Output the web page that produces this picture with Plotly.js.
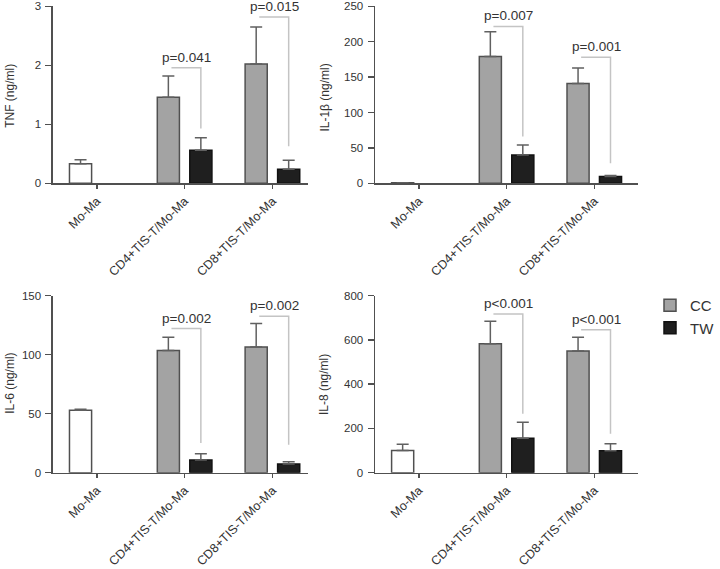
<!DOCTYPE html>
<html>
<head>
<meta charset="utf-8">
<script src="https://cdn.plot.ly/plotly-3.0.1.min.js"></script>
<style>html,body{margin:0;padding:0;background:#fff;}#chart{width:720px;height:569px;}</style>
</head>
<body>
<div id="chart"></div>
<script>
// ---- data ----
const categories = ['Mo-Ma', 'CD4+TIS-T/Mo-Ma', 'CD8+TIS-T/Mo-Ma'];
const seriesNames = ['CC', 'TW'];

const tnfCC = [0.33, 1.46, 2.02];
const tnfCCErr = [0.07, 0.36, 0.63];
const tnfTW = [null, 0.56, 0.24];
const tnfTWErr = [null, 0.21, 0.15];

const il1bCC = [0.8, 179, 141];
const il1bCCErr = [0, 35, 22];
const il1bTW = [null, 40, 9.5];
const il1bTWErr = [null, 14, 1.5];

const il6CC = [52.8, 103.4, 106.5];
const il6CCErr = [0.9, 11.3, 19.8];
const il6TW = [null, 10.7, 7.3];
const il6TWErr = [null, 5.4, 2.0];

const il8CC = [100, 582, 549];
const il8CCErr = [28, 102, 63];
const il8TW = [null, 156, 99];
const il8TWErr = [null, 72, 32];

const tnfP = ['p=0.041', 'p=0.015'];
const il1bP = ['p=0.007', 'p=0.001'];
const il6P = ['p=0.002', 'p=0.002'];
const il8P = ['p<0.001', 'p<0.001'];

// bracket levels (value units) for CD4 and CD8 groups
const tnfBracketTop = [1.96, 2.82], tnfBracketBot = [0.93, 0.63];
const il1bBracketTop = [221.5, 178], il1bBracketBot = [66, 28.3];
const il6BracketTop = [122, 132.5], il6BracketBot = [25.2, 23.7];
const il8BracketTop = [717, 645], il8BracketBot = [266, 176];

// ---- styling ----
const FONT = 'Liberation Sans, Arial, Helvetica, sans-serif';
const TXT = '#333333';
const AX = '#505050';
const BARW = 0.252, OFFC = -0.311, OFFT = 0.059;
const xi = categories.map((_, i) => i);

const panels = [
  {cc: tnfCC, ccErr: tnfCCErr, tw: tnfTW, twErr: tnfTWErr, p: tnfP, bt: tnfBracketTop, bb: tnfBracketBot, title: 'TNF (ng/ml)', range: [0, 3], dtick: 1, xr: [-0.5, 2.41]},
  {cc: il1bCC, ccErr: il1bCCErr, tw: il1bTW, twErr: il1bTWErr, p: il1bP, bt: il1bBracketTop, bb: il1bBracketBot, title: 'IL-1β (ng/ml)', range: [0, 250], dtick: 50, xr: [-0.5, 2.5]},
  {cc: il6CC, ccErr: il6CCErr, tw: il6TW, twErr: il6TWErr, p: il6P, bt: il6BracketTop, bb: il6BracketBot, title: 'IL-6 (ng/ml)', range: [0, 150], dtick: 50, xr: [-0.5, 2.41]},
  {cc: il8CC, ccErr: il8CCErr, tw: il8TW, twErr: il8TWErr, p: il8P, bt: il8BracketTop, bb: il8BracketBot, title: 'IL-8 (ng/ml)', range: [0, 800], dtick: 200, xr: [-0.5, 2.5]}
];

// pixel layout of the four plot areas
const W = 720, H = 569;
const pxX = [[54, 315], [383, 651.7], [54, 315], [383, 651.7]];
const pxY = [[6.3, 183.3], [6.3, 183.3], [295.5, 472.7], [295.5, 472.7]];
const titlePos = [[10, 96], [331.5, 98], [10, 383], [331, 385]];

const data = [];
const layout = {
  width: W, height: H,
  margin: {l: 0, r: 0, t: 0, b: 0},
  paper_bgcolor: '#fff', plot_bgcolor: 'rgba(0,0,0,0)',
  barmode: 'overlay',
  font: {family: FONT, color: TXT, size: 12},
  showlegend: true,
  legend: {x: 664 / W, y: 1 - 289 / H, xanchor: 'left', yanchor: 'top',
           font: {family: FONT, size: 15, color: TXT}, bgcolor: 'rgba(0,0,0,0)', tracegroupgap: 0},
  shapes: [], annotations: []
};

panels.forEach((pn, k) => {
  const n = k + 1;
  const xa = n === 1 ? 'x' : 'x' + n, ya = n === 1 ? 'y' : 'y' + n;
  const xk = n === 1 ? 'xaxis' : 'xaxis' + n, yk = n === 1 ? 'yaxis' : 'yaxis' + n;
  const zerosC = pn.cc.map(() => 0);

  // control (Mo-Ma) bar: white
  data.push({
    type: 'bar', x: [xi[0]], y: [pn.cc[0]], xaxis: xa, yaxis: ya,
    width: BARW, offset: OFFC, showlegend: false, hoverinfo: 'skip',
    marker: {color: '#ffffff', line: {color: AX, width: 1.5}},
    error_y: {type: 'data', symmetric: false, array: [pn.ccErr[0]], arrayminus: [0], color: '#606060', thickness: 1.5, width: 6}
  });
  // CC bars
  data.push({
    type: 'bar', name: seriesNames[0], legendgroup: 'cc', showlegend: k === 0,
    x: xi.slice(1), y: pn.cc.slice(1), xaxis: xa, yaxis: ya,
    width: BARW, offset: OFFC,
    marker: {color: '#a3a3a3', line: {color: AX, width: 1.5}},
    error_y: {type: 'data', symmetric: false, array: pn.ccErr.slice(1), arrayminus: zerosC.slice(1), color: '#606060', thickness: 1.5, width: 6}
  });
  // TW bars
  data.push({
    type: 'bar', name: seriesNames[1], legendgroup: 'tw', showlegend: k === 0,
    x: xi.slice(1), y: pn.tw.slice(1), xaxis: xa, yaxis: ya,
    width: BARW, offset: OFFT,
    marker: {color: '#1f1f1f', line: {color: '#111', width: 1.5}},
    error_y: {type: 'data', symmetric: false, array: pn.twErr.slice(1), arrayminus: zerosC.slice(1), color: '#606060', thickness: 1.5, width: 6}
  });

  layout[xk] = {
    domain: [pxX[k][0] / W, pxX[k][1] / W], anchor: ya, range: pn.xr,
    tickmode: 'array', tickvals: xi, ticktext: categories, tickangle: -45,
    ticks: 'outside', ticklen: 4, tickwidth: 1.5, tickcolor: AX,
    showline: true, linecolor: AX, linewidth: 1.5, showgrid: false, zeroline: false,
    ticklabeloverflow: 'allow',
    tickfont: {family: FONT, size: 12.5, color: TXT}, fixedrange: true
  };
  layout[yk] = {
    domain: [1 - pxY[k][1] / H, 1 - pxY[k][0] / H], anchor: xa, range: pn.range,
    dtick: pn.dtick, tick0: 0, ticks: 'outside', ticklen: 6, tickwidth: 1.5, tickcolor: AX,
    showline: true, linecolor: AX, linewidth: 1.5, showgrid: false, zeroline: false,
    ticklabeloverflow: 'allow', ticklabelstandoff: 2,
    tickfont: {family: FONT, size: 11.5, color: TXT}, fixedrange: true
  };

  // y-axis titles
  layout.annotations.push({
    xref: 'paper', yref: 'paper', x: titlePos[k][0] / W, y: 1 - titlePos[k][1] / H,
    xanchor: 'center', yanchor: 'middle', textangle: -90, showarrow: false,
    text: pn.title, font: {family: FONT, size: 12, color: TXT}
  });

  // significance brackets for CD4 / CD8 groups
  [1, 2].forEach((ci, j) => {
    const xl = ci - 0.15, xr = ci + OFFT + BARW / 2;
    layout.shapes.push({
      type: 'path', xref: xa, yref: ya,
      path: `M ${xl},${pn.bt[j]} L ${xr},${pn.bt[j]} L ${xr},${pn.bb[j]}`,
      line: {color: '#c4c4c4', width: 1.5}
    });
    layout.annotations.push({
      xref: xa, yref: ya, x: ci + 0.02, y: pn.bt[j], xanchor: 'center', yanchor: 'bottom',
      yshift: 1, showarrow: false, text: pn.p[j], font: {family: FONT, size: 13.5, color: TXT}
    });
  });
});

Plotly.newPlot('chart', data, layout, {displayModeBar: false, staticPlot: true});
</script>
</body>
</html>
